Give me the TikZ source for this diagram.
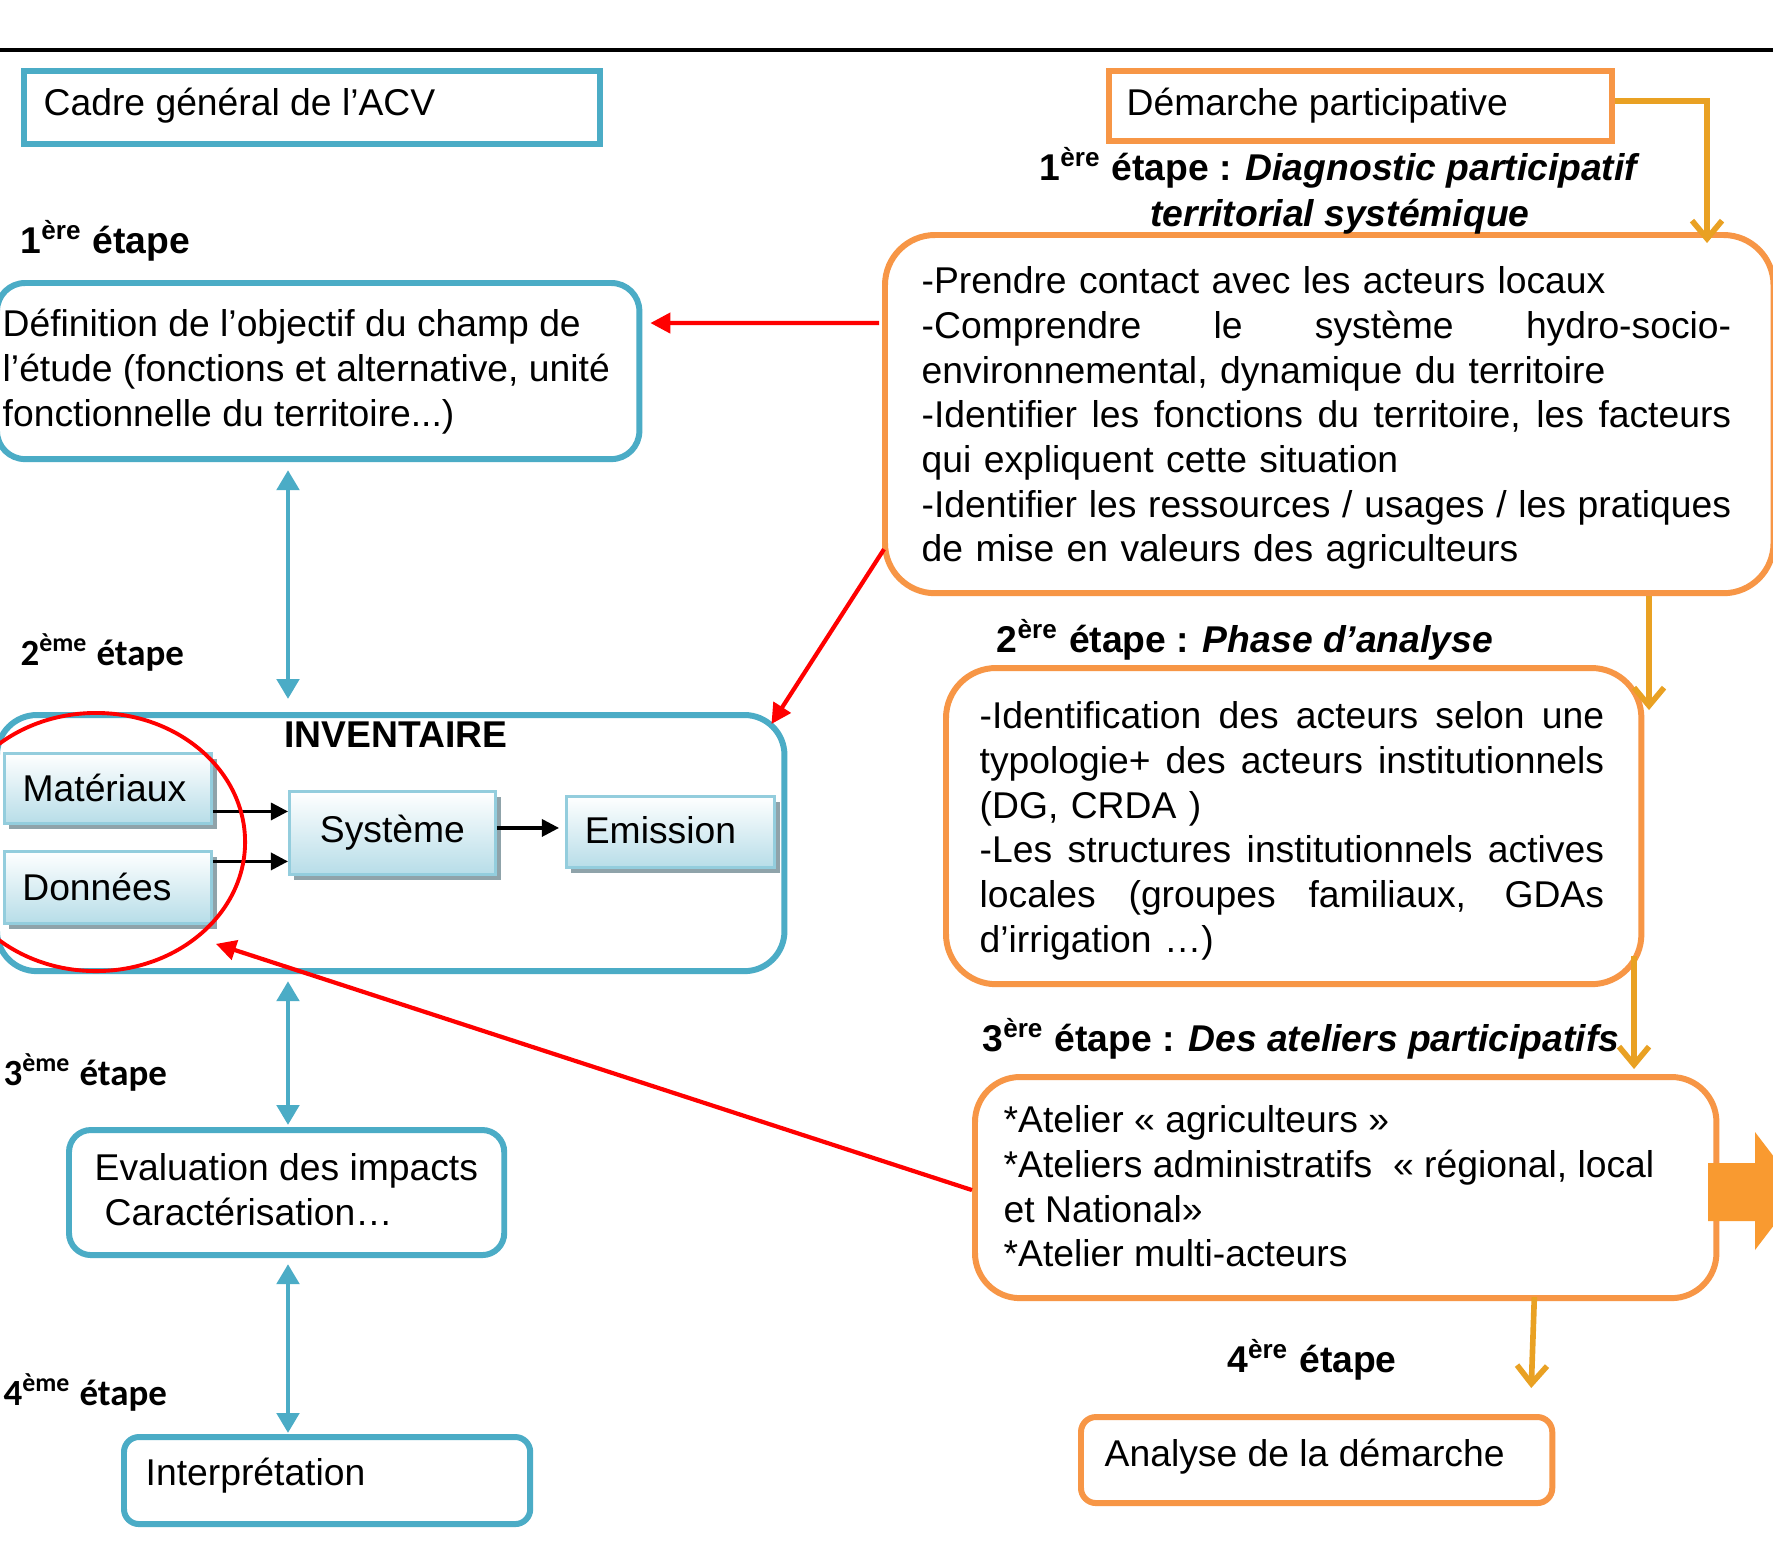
\documentclass[tikz,border=0pt]{standalone}
\usepackage{fontspec}
\setmainfont{Liberation Sans}
\newfontfamily\calib{Carlito}
\usetikzlibrary{arrows.meta,shadows,calc}
\definecolor{cblue}{HTML}{4BACC6}
\definecolor{corange}{HTML}{F79646}
\definecolor{cgold}{HTML}{E9A123}
\definecolor{cred}{HTML}{FF0000}
\definecolor{cblock}{HTML}{F99A30}
\definecolor{sedge}{HTML}{93CDDD}
\definecolor{sfill}{HTML}{B7DDE8}
\definecolor{sshadow}{HTML}{8FA3AA}
\newcommand\body{\fontsize{10.6}{12.7}\selectfont}
\newcommand\hdf{\fontsize{10.6}{12.7}\selectfont\bfseries}
\newcommand\fst{\rule{0pt}{10pt}}
\newcommand\jl[2]{\makebox[#1][s]{\spaceskip=\fontdimen2\font plus 1fil\xspaceskip=\fontdimen2\font plus 1fil\relax #2}}
\begin{document}
\begin{tikzpicture}[x=0.01cm,y=-0.01cm,
  bbox/.style={draw=cblue,line width=1.7pt,anchor=north west,inner sep=0pt},
  obox/.style={draw=corange,line width=1.7pt,anchor=north west,inner sep=0pt},
  txt/.style={inner sep=0pt,font=\body,align=left,anchor=north west},
  lbl/.style={inner sep=0pt,font=\hdf,anchor=base west},
  clbl/.style={inner sep=0pt,font=\calib\fontsize{10.5}{12}\selectfont\bfseries,anchor=base west},
  hdl/.style={inner sep=0pt,font=\hdf,anchor=base},
  sbox/.style={draw=sedge,line width=0.8pt,top color=white,bottom color=sfill,inner sep=0pt,font=\body,anchor=north west,
    drop shadow={shadow xshift=0.05cm,shadow yshift=-0.06cm,fill=sshadow,opacity=1}},
  barrow/.style={cblue,line width=1.4pt,{Triangle[width=0.22cm,length=0.2cm]}-{Triangle[width=0.22cm,length=0.2cm]}},
  rarrow/.style={cred,line width=1.2pt,-{Triangle[width=0.2cm,length=0.2cm]}},
  karrow/.style={black,line width=0.9pt,-{Triangle[width=0.17cm,length=0.17cm]}},
  garrow/.style={cgold,line width=1.6pt,-{Straight Barb[width=0.3cm,length=0.18cm]}},
]
\useasboundingbox (0,0) rectangle (1773,1544);
\fill[white] (0,0) rectangle (1773,1544);
\draw[line width=1.4pt] (0,50) -- (1773,50);

% left column boxes
\node[bbox,minimum width=5.76cm,minimum height=0.73cm] (cadre) at (21,68) {};
\node[bbox,rounded corners=0.28cm,minimum width=6.42cm,minimum height=1.76cm] (def) at (-6,280) {};
\node[bbox,rounded corners=0.4cm,minimum width=7.87cm,minimum height=2.56cm] (inv) at (-6,712) {};
\node[bbox,rounded corners=0.22cm,minimum width=4.35cm,minimum height=1.25cm] (eval) at (66,1127) {};
\node[bbox,rounded corners=0.15cm,minimum width=4.06cm,minimum height=0.87cm] (interp) at (121,1434) {};

% right column boxes
\node[obox,minimum width=5.03cm,minimum height=0.70cm] (dem) at (1106,68) {};
\node[obox,rounded corners=0.5cm,minimum width=8.88cm,minimum height=3.58cm] (box1) at (882,232) {};
\node[obox,rounded corners=0.5cm,minimum width=6.95cm,minimum height=3.16cm] (box2) at (943,665) {};
\node[obox,rounded corners=0.45cm,minimum width=7.41cm,minimum height=2.21cm] (box3) at (972,1074) {};
\node[obox,rounded corners=0.15cm,minimum width=4.71cm,minimum height=0.86cm] (ana) at (1078,1414) {};

% texts
\node[txt] (cadret) at (43,80) {\fst Cadre général de l’ACV};
\node[txt] (demt) at (1126,80) {\fst Démarche participative};
\node[txt] (deft) at (2,301) {\fst Définition de l’objectif du champ de\\l’étude (fonctions et alternative, unité\\fonctionnelle du territoire...)};
\node[txt,text width=8.09cm] (box1t) at (921,258) {\fst-Prendre contact avec les acteurs locaux\\
\jl{8.09cm}{-Comprendre le système hydro-socio-}\\
environnemental, dynamique du territoire\\
\jl{8.09cm}{-Identifier les fonctions du territoire, les facteurs}\\
qui expliquent cette situation\\
\jl{8.09cm}{-Identifier les ressources / usages / les pratiques}\\
de mise en valeurs des agriculteurs};
\node[txt,text width=6.24cm] (box2t) at (979,693) {\fst\jl{6.24cm}{-Identification des acteurs selon une}\\
\jl{6.24cm}{typologie+ des acteurs institutionnels}\\
(DG, CRDA )\\
\jl{6.24cm}{-Les structures institutionnels actives}\\
\jl{6.24cm}{locales (groupes familiaux, GDAs}\\
d’irrigation …)};
\node[txt] (box3t) at (1003,1097) {\fst*Atelier « agriculteurs »\\
*Ateliers administratifs \ « régional, local\\
et National»\\
*Atelier multi-acteurs};
\node[txt] (evalt) at (94,1145) {\fst Evaluation des impacts\\\hspace*{0.1cm}Caractérisation…};
\node[txt] (interpt) at (145,1450) {\fst Interprétation};
\node[txt] (anat) at (1104,1431) {\fst Analyse de la démarche};

% headings
\node[hdl] (h1a) at (1340,180) {1\textsuperscript{ère} étape : \textit{Diagnostic participatif}};
\node[hdl] (h1b) at (1340,226) {\textit{territorial systémique}};
\node[hdl] (h2) at (1245,652) {2\textsuperscript{ère} étape : \textit{Phase d’analyse}};
\node[hdl] (h3) at (1301,1051) {3\textsuperscript{ère} étape : \textit{Des ateliers participatifs}};
\node[hdl] (h4) at (1312,1372) {4\textsuperscript{ère} étape};
\node[lbl] (l1) at (20,253) {1\textsuperscript{ère} étape};
\node[hdl] (invt) at (396,747) {INVENTAIRE};
\node[clbl] (l2) at (20,665) {2\textsuperscript{ème} étape};
\node[clbl] (l3) at (3,1085) {3\textsuperscript{ème} étape};
\node[clbl] (l4) at (3,1405) {4\textsuperscript{ème} étape};

% inventory inner boxes
\node[sbox,minimum width=2.07cm,minimum height=0.70cm] (mat) at (3,752) {Matériaux\rule{0.07cm}{0pt}};
\node[sbox,minimum width=2.07cm,minimum height=0.72cm] (don) at (3,850) {Données\rule{0.22cm}{0pt}};
\node[sbox,minimum width=2.06cm,minimum height=0.83cm] (sys) at (288,790) {\raisebox{0.05cm}{Système}};
\node[sbox,minimum width=2.08cm,minimum height=0.71cm] (emi) at (565,795) {\raisebox{0.03cm}{Emission}\rule{0.2cm}{0pt}};

\coordinate (m1) at ([yshift=-0.23cm]mat.east);
\coordinate (d1) at ([yshift=0.26cm]don.east);
\draw[karrow] (m1) -- (m1 -| sys.west);
\draw[karrow] (d1) -- (d1 -| sys.west);
\draw[karrow,shorten >=0.06cm] ([yshift=0.05cm]sys.east) -- ([yshift=0.05cm]sys.east -| emi.west);

% ellipse
\draw[cred,line width=1.1pt] (96,842) ellipse [x radius=1.49cm,y radius=1.29cm];

% blue arrows
\coordinate (colL) at (288,0);
\draw[barrow,shorten <=0.08cm,shorten >=0.13cm] (colL |- def.south) -- (colL |- inv.north);
\draw[barrow,shorten <=0.07cm,shorten >=0.02cm] (colL |- inv.south) -- (colL |- eval.north);
\draw[barrow,shorten <=0.06cm,shorten >=0.01cm] (colL |- eval.south) -- (colL |- interp.north);

% red arrows
\draw[rarrow] ([xshift=-0.03cm,yshift=0.91cm]box1.west) -- ([xshift=0.08cm,yshift=0.48cm]def.east);
\draw[rarrow] ([xshift=0.02cm,yshift=-1.35cm]box1.west) -- ([xshift=-0.16cm,yshift=-0.12cm]inv.north east);
\draw[rarrow] ([yshift=-0.025cm]box3.west) -- ([xshift=0.03cm,yshift=-0.19cm]don.south east);

% gold arrows
\coordinate (gx1) at (1707,0);
\coordinate (gx2) at (1649,0);
\coordinate (gx3) at (1634,0);
\coordinate (g1e) at (gx1 |- box1.north);
\draw[garrow] ([yshift=0.05cm]dem.east) -| ([yshift=-0.11cm]g1e);
\draw[garrow,shorten >=-0.45cm] (gx2 |- box1.south) -- (gx2 |- box2.north);
\draw[garrow,shorten <=-0.31cm,shorten >=0.05cm] (gx3 |- box2.south) -- (gx3 |- box3.north);
\draw[garrow] ([xshift=1.885cm,yshift=0.04cm]box3.south) -- ([xshift=2.145cm,yshift=0.26cm]ana.north);

% block arrow
\fill[cblock] (1708,1163) -- (1755,1163) -- (1755,1132) -- (1800,1191) -- (1755,1250) -- (1755,1221) -- (1708,1221) -- cycle;
\end{tikzpicture}
\end{document}
